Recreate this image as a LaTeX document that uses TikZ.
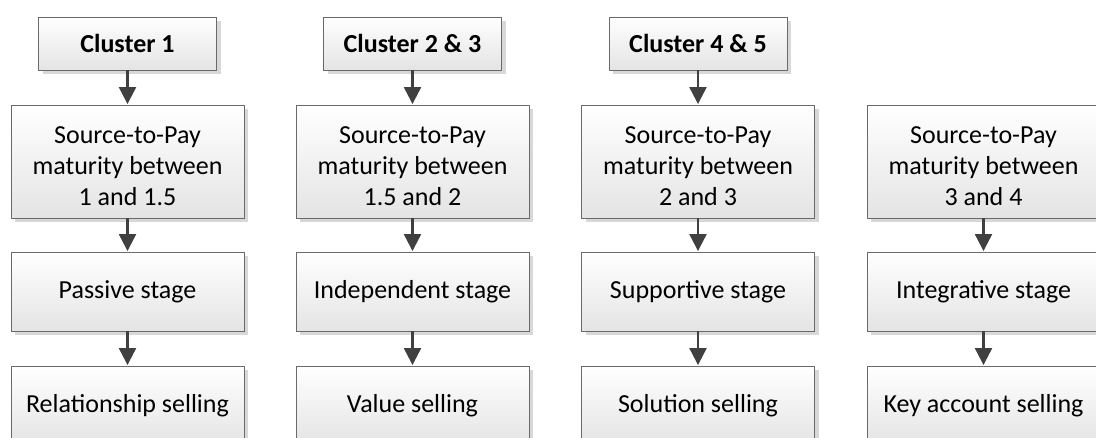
\documentclass[tikz,border=0pt]{standalone}
\usepackage{fontspec}
\setmainfont{Carlito}
\usetikzlibrary{arrows.meta,shadows}
\definecolor{boxline}{HTML}{6A6A6A}
\definecolor{arrowc}{HTML}{404040}
\definecolor{boxbot}{HTML}{E4E4E4}
\definecolor{shadowc}{HTML}{D8D8D8}
\newcommand{\dropdown}{\rule{0pt}{27pt}}
\begin{document}
\begin{tikzpicture}[x=1pt,y=-1pt,
  box/.style={draw=boxline, line width=0.9pt, top color=white, bottom color=boxbot,
    minimum width=233pt, inner sep=0pt, align=center,
    font=\fontsize{26}{31}\selectfont,
    drop shadow={shadow xshift=4pt, shadow yshift=-4pt, fill=shadowc, opacity=1}},
  clusterbox/.style={box, minimum width=178pt, minimum height=53pt, font=\fontsize{26}{31}\selectfont\bfseries},
  mainbox/.style={box, minimum height=113pt},
  stagebox/.style={box, minimum height=79pt},
  arr/.style={draw=arrowc, line width=2.2pt, -{Triangle[length=17pt,width=17pt]}, shorten >=0.5pt}
]
\useasboundingbox (0,0) rectangle (1096,437);

% column 1
\node[clusterbox] (c1) at (127.5,43.5) {Cluster 1};
\node[mainbox] (m1) at (127.5,161.5) {\dropdown Source-to-Pay\\maturity between\\1 and 1.5};
\node[stagebox] (s1) at (127.5,291.5) {Passive stage};
\node[stagebox] (l1) at (127.5,405.5) {Relationship selling};

% column 2
\node[clusterbox] (c2) at (412.5,43.5) {Cluster 2 \& 3};
\node[mainbox] (m2) at (412.5,161.5) {\dropdown Source-to-Pay\\maturity between\\1.5 and 2};
\node[stagebox] (s2) at (412.5,291.5) {Independent stage};
\node[stagebox] (l2) at (412.5,405.5) {Value selling};

% column 3
\node[clusterbox] (c3) at (698,43.5) {Cluster 4 \& 5};
\node[mainbox] (m3) at (698,161.5) {\dropdown Source-to-Pay\\maturity between\\2 and 3};
\node[stagebox] (s3) at (698,291.5) {Supportive stage};
\node[stagebox] (l3) at (698,405.5) {Solution selling};

% column 4
\node[mainbox] (m4) at (983.5,161.5) {\dropdown Source-to-Pay\\maturity between\\3 and 4};
\node[stagebox] (s4) at (983.5,291.5) {Integrative stage};
\node[stagebox] (l4) at (983.5,405.5) {Key account selling};

% arrows
\foreach \i in {1,2,3}{
  \draw[arr] (c\i.south) -- (m\i.north);
}
\foreach \i in {1,2,3,4}{
  \draw[arr] (m\i.south) -- (s\i.north);
  \draw[arr] (s\i.south) -- (l\i.north);
}
\end{tikzpicture}
\end{document}
